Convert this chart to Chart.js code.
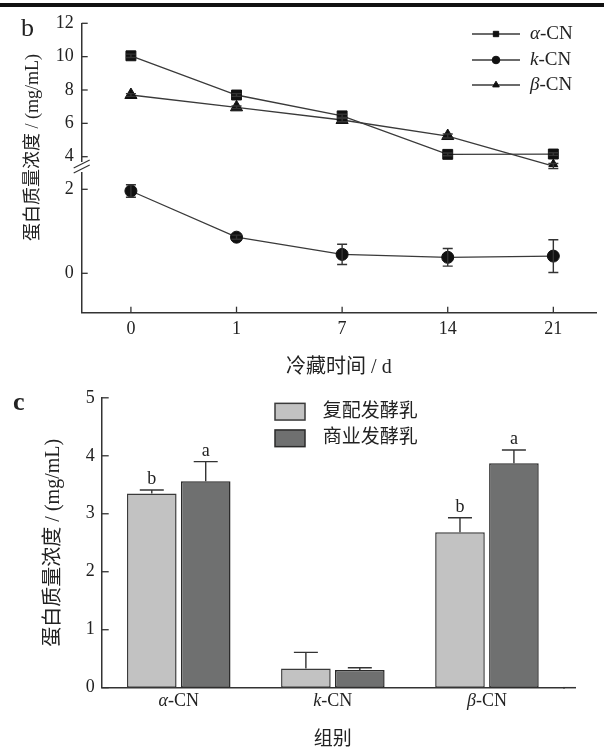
<!DOCTYPE html>
<html>
<head>
<meta charset="utf-8">
<script src="https://cdn.jsdelivr.net/npm/chart.js@4.4.1/dist/chart.umd.min.js"></script>
<style>
html, body { margin: 0; padding: 0; background: #fff; overflow: hidden; }
body { width: 604px; height: 749px; position: relative; }
#topRule { position: absolute; left: 0; top: 3px; width: 604px; height: 4px; background: #111; }
#boxB { position: absolute; left: 0; top: 0; width: 604px; height: 380px; }
#boxC { position: absolute; left: 0; top: 380px; width: 604px; height: 372px; }
</style>
</head>
<body>
<div id="boxB"><canvas id="chart_b"></canvas></div>
<div id="boxC"><canvas id="chart_c"></canvas></div>
<div id="topRule"></div>
<script>
/* =========================
   Data - panel b (cold storage)
========================= */
const days = ['0', '1', '7', '14', '21'];
const alphaCN = [10.05, 7.70, 6.45, 4.14, 4.16];
const alphaErr = [0.10, 0.08, 0.10, 0.08, 0.08];
const kCN = [1.96, 0.86, 0.45, 0.38, 0.41];
const kErr = [0.15, 0.05, 0.24, 0.21, 0.39];
const betaCN = [7.70, 6.96, 6.20, 5.24, 3.44];
const betaErr = [0.08, 0.08, 0.10, 0.12, 0.15];
const upperTicks = [4, 6, 8, 10, 12];
const lowerTicks = [0, 2];

/* =========================
   Data - panel c (groups)
========================= */
const groups = ['α-CN', 'k-CN', 'β-CN'];
const compound = [3.35, 0.33, 2.68];
const compoundErr = [0.06, 0.28, 0.25];
const compoundSig = ['b', '', 'b'];
const commercial = [3.56, 0.305, 3.87];
const commercialErr = [0.34, 0.04, 0.23];
const commercialSig = ['a', '', 'a'];
const barTicks = [0, 1, 2, 3, 4, 5];

const SERIF = '"Liberation Serif", "Noto Sans CJK SC", serif';
const INK = '#222';
const AXIS = '#333';

Chart.defaults.font.family = SERIF;
Chart.defaults.color = INK;
Chart.defaults.animation = false;

// label like "α-CN" with the first letter in italics
function drawCN(ctx, label, x, y, size, align) {
    const head = label.slice(0, 1);
    const tail = label.slice(1);
    ctx.font = 'italic ' + size + 'px ' + SERIF;
    const w1 = ctx.measureText(head).width;
    ctx.font = size + 'px ' + SERIF;
    const w2 = ctx.measureText(tail).width;
    let x0 = x;
    if (align === 'center') {
        x0 = x - (w1 + w2) / 2;
    }
    ctx.textAlign = 'left';
    ctx.textBaseline = 'middle';
    ctx.fillStyle = INK;
    ctx.font = 'italic ' + size + 'px ' + SERIF;
    ctx.fillText(head, x0, y);
    ctx.font = size + 'px ' + SERIF;
    ctx.fillText(tail, x0 + w1, y);
}

/* =========================
   Plugins
========================= */
const innerTicks = {
    id: 'innerTicks',
    afterDraw(chart, args, opts) {
        const ctx = chart.ctx;
        ctx.save();
        ctx.strokeStyle = AXIS;
        ctx.lineWidth = 1.3;
        opts.axes.forEach(id => {
            const scale = chart.scales[id];
            scale.ticks.forEach((t, i) => {
                ctx.beginPath();
                if (scale.isHorizontal()) {
                    const px = scale.getPixelForTick(i);
                    ctx.moveTo(px, scale.top);
                    ctx.lineTo(px, scale.top - opts.len);
                } else {
                    const py = scale.getPixelForTick(i);
                    ctx.moveTo(scale.right, py);
                    ctx.lineTo(scale.right + opts.len, py);
                }
                ctx.stroke();
            });
        });
        ctx.restore();
    }
};

const errorBars = {
    id: 'errorBars',
    afterDatasetsDraw(chart, args, opts) {
        const ctx = chart.ctx;
        ctx.save();
        ctx.strokeStyle = AXIS;
        ctx.lineWidth = 1.4;
        chart.data.datasets.forEach((ds, di) => {
            const meta = chart.getDatasetMeta(di);
            const yScale = chart.scales[meta.yAxisID];
            meta.data.forEach((el, i) => {
                const raw = ds.data[i];
                const v = typeof raw === 'object' ? raw.y : raw;
                const e = ds.errors[i];
                const top = yScale.getPixelForValue(v + e);
                const bottom = opts.upOnly ? el.y : yScale.getPixelForValue(v - e);
                const half = opts.cap / 2;
                ctx.beginPath();
                ctx.moveTo(el.x, top);
                ctx.lineTo(el.x, bottom);
                ctx.moveTo(el.x - half, top);
                ctx.lineTo(el.x + half, top);
                if (!opts.upOnly) {
                    ctx.moveTo(el.x - half, bottom);
                    ctx.lineTo(el.x + half, bottom);
                }
                ctx.stroke();
                if (ds.sig && ds.sig[i]) {
                    ctx.fillStyle = INK;
                    ctx.font = opts.sigSize + 'px ' + SERIF;
                    ctx.textAlign = 'center';
                    ctx.textBaseline = 'alphabetic';
                    ctx.fillText(ds.sig[i], el.x, top - 6);
                }
            });
        });
        ctx.restore();
    }
};

// the "//" mark where the two y ranges meet
const axisBreak = {
    id: 'axisBreak',
    afterDraw(chart) {
        const ctx = chart.ctx;
        const yb = chart.scales.yUp.bottom;
        const x = chart.chartArea.left;
        ctx.save();
        ctx.fillStyle = '#fff';
        ctx.fillRect(x - 3, yb - 5, 6, 10);
        ctx.strokeStyle = AXIS;
        ctx.lineWidth = 1.2;
        ctx.beginPath();
        ctx.moveTo(x - 8, yb + 1);
        ctx.lineTo(x + 8, yb - 7);
        ctx.moveTo(x - 8, yb + 6);
        ctx.lineTo(x + 8, yb - 2);
        ctx.stroke();
        ctx.restore();
    }
};

const lineLegend = {
    id: 'lineLegend',
    afterDraw(chart, args, opts) {
        const ctx = chart.ctx;
        ctx.save();
        chart.data.datasets.forEach((ds, i) => {
            const y = opts.rows[i];
            ctx.strokeStyle = ds.borderColor;
            ctx.lineWidth = ds.borderWidth;
            ctx.beginPath();
            ctx.moveTo(opts.x0, y);
            ctx.lineTo(opts.x1, y);
            ctx.stroke();
            ctx.fillStyle = ds.pointBackgroundColor;
            ctx.strokeStyle = ds.pointBorderColor;
            ctx.lineWidth = 1;
            Chart.helpers.drawPoint(ctx, {
                pointStyle: ds.pointStyle,
                radius: opts.radius,
                rotation: 0,
                borderWidth: 1
            }, (opts.x0 + opts.x1) / 2, y);
            drawCN(ctx, ds.label, opts.textX, y, opts.size, 'left');
        });
        ctx.restore();
    }
};

const boxLegend = {
    id: 'boxLegend',
    afterDraw(chart, args, opts) {
        const ctx = chart.ctx;
        ctx.save();
        chart.data.datasets.forEach((ds, i) => {
            const y = opts.rows[i];
            ctx.fillStyle = ds.backgroundColor;
            ctx.fillRect(opts.x, y - opts.h / 2, opts.w, opts.h);
            ctx.strokeStyle = ds.borderColor;
            ctx.lineWidth = 1.5;
            ctx.strokeRect(opts.x, y - opts.h / 2, opts.w, opts.h);
            ctx.fillStyle = INK;
            ctx.font = opts.size + 'px ' + SERIF;
            ctx.textAlign = 'left';
            ctx.textBaseline = 'middle';
            ctx.fillText(ds.label, opts.textX, y);
        });
        ctx.restore();
    }
};

const groupLabels = {
    id: 'groupLabels',
    afterDraw(chart, args, opts) {
        const ctx = chart.ctx;
        const scale = chart.scales.x;
        ctx.save();
        chart.data.labels.forEach((lab, i) => {
            drawCN(ctx, lab, scale.getPixelForTick(i), scale.top + opts.offset, opts.size, 'center');
        });
        // x axis line runs a little past the last group
        ctx.strokeStyle = AXIS;
        ctx.lineWidth = 1.5;
        ctx.beginPath();
        ctx.moveTo(chart.chartArea.right - 1, scale.top);
        ctx.lineTo(chart.chartArea.right + opts.extend, scale.top);
        ctx.stroke();
        ctx.restore();
    }
};

const panelText = {
    id: 'panelText',
    afterDraw(chart, args, opts) {
        const ctx = chart.ctx;
        opts.items.forEach(it => {
            ctx.save();
            ctx.fillStyle = INK;
            ctx.font = it.font;
            ctx.translate(it.x, it.y);
            if (it.rotate) {
                ctx.rotate(-Math.PI / 2);
            }
            ctx.textAlign = it.align || 'left';
            ctx.textBaseline = it.baseline || 'alphabetic';
            ctx.fillText(it.text, 0, 0);
            ctx.restore();
        });
    }
};

/* =========================
   Panel b - line chart with broken y axis
========================= */
const toPoints = arr => arr.map((v, i) => ({ x: i, y: v }));
const lineStyle = {
    borderColor: '#3a3a3a',
    borderWidth: 1.3,
    pointBackgroundColor: '#111',
    pointBorderColor: '#111',
    pointBorderWidth: 1,
    tension: 0
};
const axisBorder = { display: true, color: AXIS, width: 1.5 };
const noGrid = { display: false, drawTicks: false };

new Chart(document.getElementById('chart_b'), {
    type: 'line',
    data: {
        datasets: [
            { label: 'α-CN', data: toPoints(alphaCN), errors: alphaErr, yAxisID: 'yUp', pointStyle: 'rect', pointRadius: 7, ...lineStyle },
            { label: 'k-CN', data: toPoints(kCN), errors: kErr, yAxisID: 'yLow', pointStyle: 'circle', pointRadius: 6, ...lineStyle },
            { label: 'β-CN', data: toPoints(betaCN), errors: betaErr, yAxisID: 'yUp', pointStyle: 'triangle', pointRadius: 7, ...lineStyle }
        ]
    },
    options: {
        responsive: true,
        maintainAspectRatio: false,
        layout: { padding: { top: 23.3, left: 0, right: 0, bottom: 0 } },
        scales: {
            x: {
                type: 'linear',
                min: -0.466,
                max: 4.404,
                afterBuildTicks: s => { s.ticks = days.map((d, i) => ({ value: i })); },
                ticks: { callback: v => days[v], font: { size: 18 }, padding: 6, maxRotation: 0, autoSkip: false },
                grid: noGrid,
                border: axisBorder,
                title: { display: true, text: '冷藏时间 / d', font: { size: 20 }, padding: { top: 0, bottom: 0 } },
                afterFit: s => { s.height = 67.3; }
            },
            yLow: {
                type: 'linear',
                position: 'left',
                stack: 'b',
                stackWeight: 145.7,
                min: -0.938,
                max: 2.531,
                afterBuildTicks: s => { s.ticks = lowerTicks.map(v => ({ value: v })); },
                ticks: { font: { size: 18 }, padding: 8, autoSkip: false },
                grid: noGrid,
                border: axisBorder,
                afterFit: s => { s.width = 81.7; }
            },
            yUp: {
                type: 'linear',
                position: 'left',
                stack: 'b',
                stackWeight: 143.7,
                min: 3.382,
                max: 12,
                afterBuildTicks: s => { s.ticks = upperTicks.map(v => ({ value: v })); },
                ticks: { font: { size: 18 }, padding: 8, autoSkip: false },
                grid: noGrid,
                border: axisBorder,
                afterFit: s => { s.width = 81.7; }
            }
        },
        plugins: {
            legend: { display: false },
            tooltip: { enabled: false },
            innerTicks: { axes: ['x', 'yUp', 'yLow'], len: 6 },
            errorBars: { cap: 10, upOnly: false, sigSize: 18 },
            lineLegend: { x0: 472, x1: 520, rows: [34, 60, 85], radius: 3.8, textX: 530, size: 19 },
            panelText: {
                items: [
                    { text: 'b', x: 21, y: 36, font: '26px ' + SERIF },
                    { text: '蛋白质量浓度 / (mg/mL)', x: 33, y: 147.5, font: '18px ' + SERIF, rotate: true, align: 'center', baseline: 'middle' }
                ]
            }
        }
    },
    plugins: [innerTicks, errorBars, axisBreak, lineLegend, panelText]
});

/* =========================
   Panel c - grouped bars
========================= */
new Chart(document.getElementById('chart_c'), {
    type: 'bar',
    data: {
        labels: groups,
        datasets: [
            { label: '复配发酵乳', data: compound, errors: compoundErr, sig: compoundSig, backgroundColor: '#c2c2c2', borderColor: '#3a3a3a', borderWidth: 1.5, borderSkipped: false },
            { label: '商业发酵乳', data: commercial, errors: commercialErr, sig: commercialSig, backgroundColor: '#6f7070', borderColor: '#2a2a2a', borderWidth: 1.5, borderSkipped: false }
        ]
    },
    options: {
        responsive: true,
        maintainAspectRatio: false,
        layout: { padding: { top: 17.7, left: 0, right: 40, bottom: 0 } },
        datasets: { bar: { categoryPercentage: 0.70, barPercentage: 0.92 } },
        scales: {
            x: {
                grid: noGrid,
                border: axisBorder,
                ticks: { display: false },
                title: { display: true, text: '组别', font: { size: 19 }, padding: { top: 0, bottom: 1 } },
                afterFit: s => { s.height = 64.3; }
            },
            y: {
                min: 0,
                max: 5,
                afterBuildTicks: s => { s.ticks = barTicks.map(v => ({ value: v })); },
                ticks: { font: { size: 18 }, padding: 7, autoSkip: false },
                grid: noGrid,
                border: axisBorder,
                title: { display: true, text: '蛋白质量浓度 / (mg/mL)', font: { size: 20 }, padding: { top: 41.9, bottom: 0 } },
                afterFit: s => { s.width = 101.7; }
            }
        },
        plugins: {
            legend: { display: false },
            tooltip: { enabled: false },
            innerTicks: { axes: ['y'], len: 7 },
            errorBars: { cap: 24, upOnly: true, sigSize: 18 },
            boxLegend: { x: 275, w: 30, h: 16.7, rows: [31.7, 58.3], textX: 322.7, size: 19 },
            groupLabels: { offset: 14, size: 18, extend: 12 },
            panelText: {
                items: [
                    { text: 'c', x: 13, y: 30, font: 'bold 26px ' + SERIF }
                ]
            }
        }
    },
    plugins: [innerTicks, errorBars, boxLegend, groupLabels, panelText]
});
</script>
</body>
</html>
